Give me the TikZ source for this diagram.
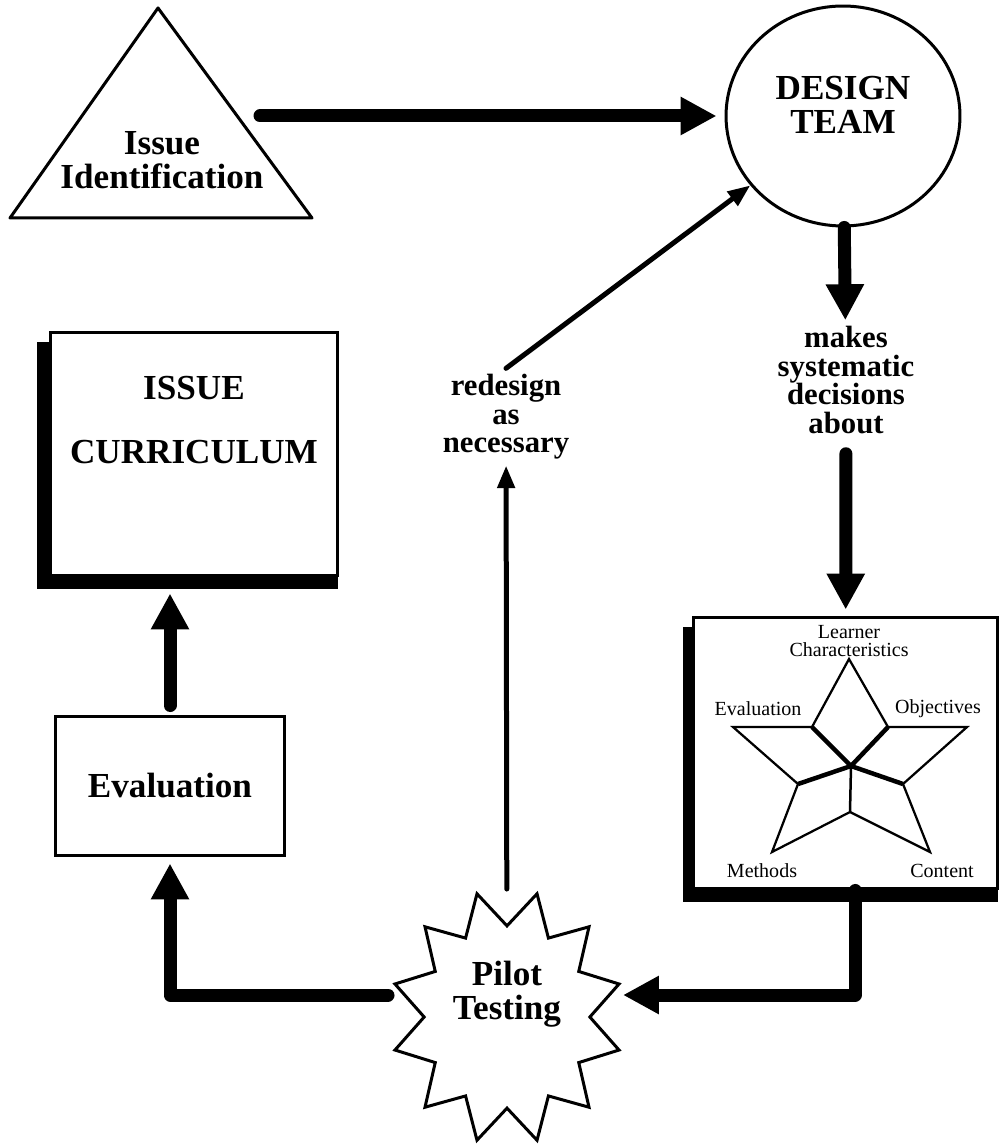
\documentclass[tikz,border=0pt]{standalone}
\usepackage{fontspec}
\setmainfont{Liberation Serif}
\usetikzlibrary{arrows.meta,shapes.geometric,positioning}
\tikzset{
  bigarrow/.style={line width=0.26cm, line cap=round, line join=round, -{Triangle[length=0.72cm,width=0.72cm]}},
  smallarrow/.style={line width=0.1cm, line cap=round, -{Triangle[length=0.45cm,width=0.34cm]}},
  outline/.style={draw, line width=0.06cm},
  bigtext/.style={font=\fontsize{20}{19.3}\selectfont\bfseries, align=center},
  midtext/.style={font=\fontsize{17.5}{16.2}\selectfont\bfseries, align=center},
  startext/.style={font=\fontsize{11.4}{10.4}\selectfont, align=center, inner sep=0pt},
}
\begin{document}
\begin{tikzpicture}[x=0.02cm, y=-0.02cm]
\useasboundingbox (0,0) rectangle (1000,1148);
% issue identification
\draw [outline, line join=round] (158,8) -- (312,218) -- (10,218) -- cycle;
\node [bigtext] (issue) at (162,160) {Issue\\Identification};
\coordinate (issueout) at (260,116);
% design team
\node [outline, ellipse, minimum width=4.68cm, minimum height=4.4cm, inner sep=0pt] (team) at (843,116) {};
\node [bigtext] (teamtext) at (843,105) {DESIGN\\TEAM};
\node [midtext] (makes) at (846,380) {makes\\systematic\\decisions\\about};
% box with the star
\fill (683,627) rectangle (998,902);
\node [outline, fill=white, minimum width=6.1cm, minimum height=5.44cm, inner sep=0pt] (starbox) at (845.5,753) {};
\draw [line width=0.045cm] (849,659) -- (888,727) -- (967,727) -- (903,784) -- (930,852) -- (850,812)
  -- (772,852) -- (798,784) -- (733,727) -- (812,727) -- cycle;
\draw [line width=0.09cm] (812,727) -- (851,766) -- (888,727);
\draw [line width=0.09cm] (798,784) -- (851,766) -- (903,784);
\draw [line width=0.05cm] (851,766) -- (850,812);
\node [startext] (learner) at (849,641) {Learner\\Characteristics};
\node [startext] (stareval) at (758,709) {Evaluation};
\node [startext] (objectives) at (938,709) {Objectives};
\node [startext] (methods) at (762,871) {Methods};
\node [startext] (content) at (942,871) {Content};
% pilot testing
\begin{scope}[shift={(507,1017)}, yscale=1.1]
\node [outline, star, star points=12, star point ratio=1.4, shape border rotate=15, minimum size=4.64cm, inner sep=0pt, transform shape] (pilot) at (0,0) {};
\end{scope}
\node [bigtext] (pilottext) at (507,994) {Pilot\\Testing};
\node [midtext] (redesign) at (506,417) {redesign\\as\\necessary};
% left column
\fill (37,342) rectangle (338,589);
\node [outline, fill=white, minimum width=5.76cm, minimum height=4.88cm] (curric) at (194,454) {};
\node [bigtext, font=\fontsize{20}{36}\selectfont\bfseries] (currtext) at (194,420) {ISSUE\\CURRICULUM};
\node [outline, bigtext, minimum width=4.6cm, minimum height=2.8cm] (evalbox) at (170,786) {Evaluation};
% connectors
\draw [bigarrow, shorten >=0.16cm] (issueout) -- (team);
\draw [bigarrow] (team) -- (makes);
\draw [bigarrow, shorten <=0.28cm, shorten >=0.12cm] (makes) -- (starbox);
\draw [bigarrow] ([xshift=0.19cm]starbox.south) |- ([shift={(2.32cm,0.44cm)}]pilot.center);
\draw [bigarrow, shorten >=0.12cm] ([shift={(-2.38cm,0.44cm)}]pilot.center) -| (evalbox);
\draw [bigarrow, shorten <=0.18cm, shorten >=0.32cm] (evalbox.north) -- (evalbox.north |- curric.south);
\draw [smallarrow, shorten <=2.56cm] (pilot.center) -- (redesign);
\draw [smallarrow] (redesign.north) -- (team);
\end{tikzpicture}
\end{document}
